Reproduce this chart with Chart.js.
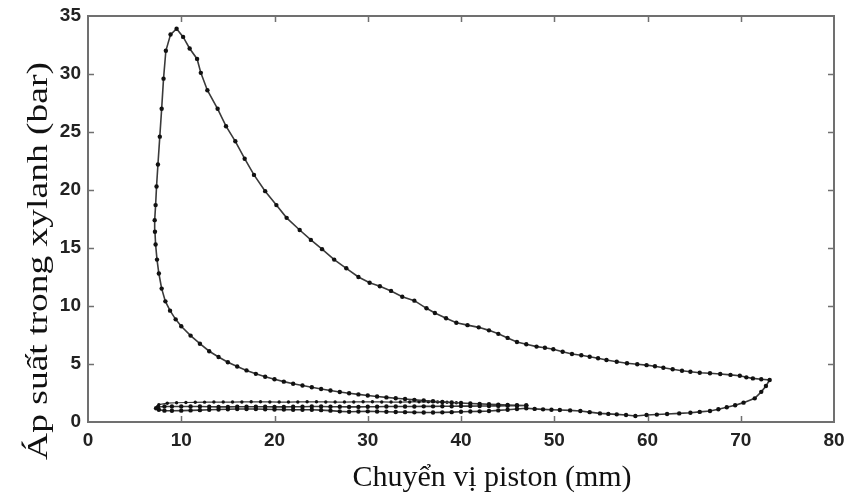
<!DOCTYPE html>
<html>
<head>
<meta charset="utf-8">
<script src="https://cdn.jsdelivr.net/npm/chart.js@4.4.0/dist/chart.umd.min.js"></script>
<style>
  html, body { margin: 0; padding: 0; background: #fff; }
  #wrap { width: 850px; height: 495px; }
</style>
</head>
<body>
<div id="wrap"><canvas id="pvChart"></canvas></div>
<script>
// main cycle: compression -> peak -> expansion -> exhaust -> bottom pumping line -> middle line
const compressionX = [47.0, 46.0, 45.0, 44.0, 43.0, 42.0, 41.0, 40.0, 39.0, 38.0, 37.0, 36.0, 35.0, 34.0, 33.0, 32.0, 31.0, 30.0, 29.0, 28.0, 27.0, 26.0, 25.0, 24.0, 23.0, 22.0, 21.0, 20.0, 19.0, 18.0, 17.0, 16.0, 15.0, 14.0, 13.0, 12.0, 11.0, 10.0, 9.4, 8.8, 8.3, 7.9, 7.6, 7.4, 7.25, 7.18, 7.15, 7.25, 7.35, 7.5, 7.7, 7.9, 8.1, 8.35, 8.85, 9.5];
const compressionP = [1.42, 1.45, 1.47, 1.50, 1.53, 1.56, 1.60, 1.64, 1.68, 1.73, 1.79, 1.85, 1.91, 1.98, 2.05, 2.12, 2.20, 2.29, 2.38, 2.48, 2.59, 2.71, 2.85, 3.00, 3.15, 3.30, 3.48, 3.68, 3.90, 4.15, 4.45, 4.78, 5.15, 5.60, 6.10, 6.75, 7.45, 8.25, 8.85, 9.6, 10.4, 11.5, 12.8, 14.0, 15.3, 16.4, 17.4, 18.7, 20.3, 22.2, 24.6, 27.0, 29.6, 32.0, 33.4, 33.9];

const expansionX = [10.2, 10.9, 11.7, 12.1, 12.8, 13.9, 14.8, 15.8, 16.8, 17.8, 19.0, 20.2, 21.3, 22.7, 23.9, 25.1, 26.4, 27.7, 29.0, 30.2, 31.3, 32.5, 33.7, 35.0, 36.3, 37.2, 38.4, 39.5, 40.7, 41.9, 43.0, 44.0, 45.0, 46.0, 47.0, 48.1, 49.0, 49.9, 50.9, 51.9, 52.9, 53.8, 54.7, 55.6, 56.7, 57.8, 58.9, 59.9, 60.8, 61.7, 62.7, 63.7, 64.6, 65.6, 66.7, 67.8, 68.9, 69.9, 70.6, 71.3, 72.2, 73.1];
const expansionP = [33.2, 32.2, 31.3, 30.1, 28.6, 27.0, 25.5, 24.2, 22.7, 21.3, 19.9, 18.7, 17.6, 16.55, 15.7, 14.9, 14.0, 13.25, 12.5, 12.0, 11.7, 11.3, 10.8, 10.46, 9.8, 9.4, 8.95, 8.56, 8.35, 8.16, 7.9, 7.6, 7.25, 6.9, 6.7, 6.5, 6.4, 6.27, 6.05, 5.86, 5.75, 5.63, 5.5, 5.34, 5.2, 5.06, 4.98, 4.9, 4.8, 4.68, 4.55, 4.42, 4.33, 4.25, 4.2, 4.14, 4.06, 3.99, 3.85, 3.76, 3.68, 3.62];

const exhaustX = [72.7, 72.2, 71.5, 70.3, 69.4, 68.5, 67.6, 66.7, 65.6, 64.6, 63.4, 62.1, 61.0, 59.9, 58.7, 57.7, 56.7, 55.8, 54.9, 53.8, 52.8, 51.7, 50.6, 49.7, 48.8, 47.9, 47.0, 46.0, 45.0, 44.0, 43.0, 42.0, 41.0, 40.0, 39.0, 38.0, 37.0, 36.0, 35.0, 34.0, 33.0, 32.0, 31.0, 30.0, 29.0, 28.0, 27.0, 26.0, 25.0, 24.0, 23.0, 22.0, 21.0, 20.0, 19.0, 18.0, 17.0, 16.0, 15.0, 14.0, 13.0, 12.0, 11.0, 10.0, 9.0, 8.2, 7.6, 7.3];
const exhaustP = [3.1, 2.6, 2.04, 1.67, 1.45, 1.27, 1.1, 0.95, 0.87, 0.8, 0.74, 0.69, 0.64, 0.6, 0.52, 0.6, 0.66, 0.7, 0.74, 0.85, 0.95, 1.0, 1.03, 1.06, 1.09, 1.13, 1.18, 1.12, 1.05, 1.0, 0.95, 0.92, 0.9, 0.88, 0.85, 0.83, 0.82, 0.82, 0.83, 0.85, 0.86, 0.88, 0.9, 0.92, 0.9, 0.88, 0.92, 0.98, 1.02, 1.05, 1.05, 1.06, 1.07, 1.08, 1.1, 1.12, 1.12, 1.12, 1.1, 1.08, 1.05, 1.02, 1.0, 0.98, 0.97, 0.98, 1.05, 1.18];

const intakeX = [7.5, 8.2, 9.0, 10.0, 11.0, 12.0, 13.0, 14.0, 15.0, 16.0, 17.0, 18.0, 19.0, 20.0, 21.0, 22.0, 23.0, 24.0, 25.0, 26.0, 27.0, 28.0, 29.0, 30.0, 31.0, 32.0, 33.0, 34.0, 35.0, 36.0, 37.0, 38.0, 39.0, 40.0, 41.0, 42.0, 43.0, 44.0, 45.0, 46.0, 47.0];
const intakeP = [1.3, 1.33, 1.33, 1.34, 1.34, 1.33, 1.32, 1.3, 1.3, 1.31, 1.32, 1.32, 1.31, 1.3, 1.3, 1.31, 1.32, 1.33, 1.33, 1.32, 1.31, 1.3, 1.3, 1.31, 1.32, 1.33, 1.33, 1.34, 1.34, 1.35, 1.35, 1.36, 1.36, 1.37, 1.37, 1.38, 1.38, 1.39, 1.4, 1.41, 1.42];

// second trace in the pumping band, merges into the compression curve
const upperX = [7.6, 8.5, 9.5, 10.5, 11.5, 12.5, 13.5, 14.5, 15.5, 16.5, 17.5, 18.5, 19.5, 20.5, 21.5, 22.5, 23.5, 24.5, 25.5, 26.5, 27.5, 28.5, 29.5, 30.5, 31.5, 32.5, 33.5, 34.5, 35.5, 36.5, 37.5, 38.5, 39.5];
const upperP = [1.5, 1.62, 1.66, 1.68, 1.7, 1.71, 1.72, 1.72, 1.72, 1.73, 1.74, 1.74, 1.73, 1.72, 1.72, 1.73, 1.74, 1.74, 1.73, 1.72, 1.72, 1.73, 1.74, 1.74, 1.73, 1.72, 1.72, 1.73, 1.74, 1.74, 1.72, 1.7, 1.66];

const xTicks = [0, 10, 20, 30, 40, 50, 60, 70, 80];
const yTicks = [0, 5, 10, 15, 20, 25, 30, 35];
const xTitle = 'Chuyển vị piston (mm)';
const yTitle = 'Áp suất trong xylanh (bar)';

function toPoints(xs, ys) {
    return xs.map((x, i) => ({ x: x, y: ys[i] }));
}

const cycle = [].concat(
    toPoints(compressionX, compressionP),
    toPoints(expansionX, expansionP),
    toPoints(exhaustX, exhaustP),
    toPoints(intakeX, intakeP)
);

// frame, inward tick marks and axis titles
const framePlugin = {
    id: 'frame',
    afterDraw(chart) {
        const { ctx, chartArea: a, scales } = chart;
        ctx.save();
        ctx.strokeStyle = '#707070';
        ctx.lineWidth = 2;
        ctx.strokeRect(a.left, a.top, a.right - a.left, a.bottom - a.top);
        ctx.lineWidth = 1.5;
        ctx.beginPath();
        xTicks.slice(1, -1).forEach(v => {
            const px = Math.round(scales.x.getPixelForValue(v)) + 0.5;
            ctx.moveTo(px, a.bottom); ctx.lineTo(px, a.bottom - 6);
            ctx.moveTo(px, a.top); ctx.lineTo(px, a.top + 6);
        });
        yTicks.slice(1, -1).forEach(v => {
            const py = Math.round(scales.y.getPixelForValue(v)) + 0.5;
            ctx.moveTo(a.left, py); ctx.lineTo(a.left + 6, py);
            ctx.moveTo(a.right, py); ctx.lineTo(a.right - 6, py);
        });
        ctx.stroke();

        ctx.fillStyle = '#111';
        ctx.font = '30px "Liberation Serif", "Times New Roman", serif';
        ctx.textAlign = 'center';
        ctx.textBaseline = 'alphabetic';
        ctx.fillText(xTitle, 492, 486);
        // the y title is drawn a bit longer, as in the source figure
        ctx.translate(47, 261);
        ctx.rotate(-Math.PI / 2);
        ctx.scale(1.25, 1);
        ctx.fillText(yTitle, 0, 0);
        ctx.restore();
    }
};

const ctx = document.getElementById('pvChart').getContext('2d');

new Chart(ctx, {
    type: 'scatter',
    data: {
        datasets: [
            {
                data: cycle,
                showLine: true,
                borderColor: '#3a3a3a',
                borderWidth: 1.6,
                pointRadius: 2.2,
                pointBackgroundColor: '#111',
                pointBorderWidth: 0,
                tension: 0
            },
            {
                data: toPoints(upperX, upperP),
                showLine: true,
                borderColor: '#3a3a3a',
                borderWidth: 1.2,
                pointRadius: 1.7,
                pointBackgroundColor: '#111',
                pointBorderWidth: 0,
                tension: 0
            }
        ]
    },
    options: {
        responsive: true,
        maintainAspectRatio: false,
        animation: false,
        layout: {
            padding: { left: 0, right: 16, top: 16, bottom: 0 }
        },
        plugins: {
            legend: { display: false },
            tooltip: { enabled: false }
        },
        scales: {
            x: {
                type: 'linear',
                min: 0,
                max: 80,
                afterFit: (scale) => {
                    scale.height = 73;
                    scale.paddingLeft = 0;
                    scale.paddingRight = 0;
                },
                afterBuildTicks: (scale) => { scale.ticks = xTicks.map(v => ({ value: v })); },
                ticks: {
                    color: '#222',
                    padding: 7,
                    font: { family: '"Liberation Sans", Arial, sans-serif', size: 19, weight: 'bold' }
                },
                grid: { display: false, drawTicks: false },
                border: { display: false }
            },
            y: {
                type: 'linear',
                min: 0,
                max: 35,
                afterFit: (scale) => {
                    scale.width = 88;
                    scale.paddingTop = 0;
                    scale.paddingBottom = 0;
                },
                afterBuildTicks: (scale) => { scale.ticks = yTicks.map(v => ({ value: v })); },
                ticks: {
                    color: '#222',
                    padding: 7,
                    font: { family: '"Liberation Sans", Arial, sans-serif', size: 19, weight: 'bold' }
                },
                grid: { display: false, drawTicks: false },
                border: { display: false }
            }
        }
    },
    plugins: [framePlugin]
});
</script>
</body>
</html>
